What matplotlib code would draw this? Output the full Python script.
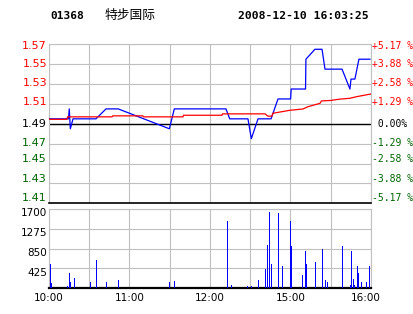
import numpy as np
import matplotlib.pyplot as plt

# ------- DATA (minutes of trading since 10:00, lunch break removed) -------

price_min = [0, 14.5, 15.1, 15.9, 17.9, 35.0, 42.5, 51.6, 89.7, 93.4, 131.9, 134.7,
             148.3, 150.8, 155.8, 165.5, 170.7, 180.1, 180.5, 191.2, 191.5, 198.2,
             203.5, 205.7, 218.4, 224.3, 225.1, 228.0, 231.0, 239.2]
price_val = [1.495, 1.495, 1.505, 1.485, 1.495, 1.495, 1.505, 1.505, 1.485, 1.505, 1.505, 1.495,
             1.495, 1.475, 1.495, 1.495, 1.515, 1.515, 1.525, 1.525, 1.555, 1.565,
             1.565, 1.545, 1.545, 1.525, 1.535, 1.535, 1.555, 1.555]

avg_min = [0, 13.4, 13.8, 47.0, 47.4, 70.0, 70.4, 99.9, 100.3, 128.9, 129.3, 161.0, 163.2,
           166.2, 166.9, 179.6, 189.3, 193.0, 202.0, 203.0, 210.0, 216.0, 224.3, 229.3, 236.0, 240.0]
avg_val = [1.4945, 1.4945, 1.497, 1.497, 1.498, 1.498, 1.497, 1.497, 1.4986, 1.4986, 1.500, 1.500, 1.4977,
           1.4977, 1.5006, 1.5036, 1.5049, 1.5072, 1.5106, 1.5130, 1.5135, 1.5147, 1.5157, 1.5173, 1.519, 1.520]

vol_min = [1.0, 1.7, 13.6, 15.1, 15.9, 18.9, 30.8, 34.7, 42.7, 51.6, 89.7, 93.4,
           132.3, 135.3, 147.8, 150.9, 156.0, 161.2, 162.7, 164.2, 165.7, 170.9, 173.9,
           179.8, 180.6, 188.8, 191.0, 191.8, 198.5, 203.7, 205.9, 207.4, 218.6,
           224.6, 225.3, 226.8, 227.5, 229.8, 230.5, 232.8, 236.5, 238.7]
vol_val = [520, 115, 50, 330, 135, 220, 135, 605, 135, 180, 135, 155,
           1445, 70, 50, 50, 180, 415, 930, 1630, 520, 1610, 480,
           1445, 905, 285, 800, 520, 565, 845, 180, 135, 905,
           70, 800, 200, 70, 470, 330, 135, 135, 480]

price_levels = [1.57, 1.55, 1.53, 1.51, 1.49, 1.47, 1.45, 1.43, 1.41]
pct_labels = ['+5.17 %', '+3.88 %', '+2.58 %', '+1.29 %', ' 0.00%',
              '-1.29 %', '-2.58 %', '-3.88 %', '-5.17 %']
vol_levels = [425, 850, 1275, 1700]
time_ticks = [0, 60, 120, 180, 240]
time_labels = ['10:00', '11:00', '12:00', '15:00', '16:00']

code = '01368'
name = '特步国际'
stamp = '2008-12-10 16:03:25'

RED = '#ff0000'
GREEN = '#006400'
GRID = '#c0c0c0'

# ------- FIGURE -------

fig = plt.figure(figsize=(4.14, 3.14), dpi=100)
W, H = 414, 314

def box(l, t, r, b):
    return [l / W, 1 - b / H, (r - l) / W, (b - t) / H]

ax = fig.add_axes(box(49, 44.3, 371, 203.3))
axv = fig.add_axes(box(49, 209, 371, 288.3))

for a in (ax, axv):
    a.set_xlim(0, 240)
    a.set_xticks(np.arange(0, 241, 30))
    a.grid(True, color=GRID, lw=0.8)
    a.set_axisbelow(True)
    a.tick_params(length=0, labelleft=False, labelbottom=False)
    for s in ('left', 'right', 'top'):
        a.spines[s].set_color(GRID)
        a.spines[s].set_linewidth(0.8)
    a.spines['bottom'].set_color('black')

# price panel
ax.set_ylim(1.41, 1.57)
ax.set_yticks(price_levels)
ax.spines['bottom'].set_linewidth(1.2)
ax.axhline(1.49, color='black', lw=1.0, zorder=2)
ax.plot(price_min, price_val, color='#0000ff', lw=0.9, zorder=3)
ax.plot(avg_min, avg_val, color=RED, lw=0.9, zorder=4)

# label rows sit a little off the grid lines, like the original
label_y = [1.5686, 1.5499, 1.5310, 1.5118, 1.4895, 1.4706, 1.4545, 1.4347, 1.4150]
ytr = ax.get_yaxis_transform()
for i, (lv, pl, yy) in enumerate(zip(price_levels, pct_labels, label_y)):
    c = RED if i < 4 else ('black' if i == 4 else GREEN)
    ax.text(-2 / 322, yy, f'{lv:.2f}', transform=ytr, ha='right', va='center',
            fontsize=8, color=c, family='DejaVu Sans')
    ax.text(1 + 1 / 322, yy, pl, transform=ytr, ha='left', va='center',
            fontsize=7, color=c, family='DejaVu Sans Mono')

# volume panel
axv.set_ylim(0, 1700)
axv.set_yticks(vol_levels)
axv.spines['bottom'].set_linewidth(1.6)
axv.vlines(vol_min, 0, vol_val, color='#0000ff', lw=0.6, zorder=3, antialiased=False)
vtr = axv.get_yaxis_transform()
for lv in vol_levels:
    axv.text(-2 / 322, lv - 90, str(lv), transform=vtr, ha='right', va='center',
             fontsize=7.5, color='black', family='DejaVu Sans')
xtr = axv.get_xaxis_transform()
for t, lab in zip(time_ticks, time_labels):
    axv.text(min(t, 236), -0.12, lab, transform=xtr, ha='center', va='center',
             fontsize=7.5, color='black', family='DejaVu Sans')

# header
fig.text(50 / W, 1 - 16 / H, code, ha='left', va='center', fontsize=8,
         fontweight='bold', family='DejaVu Sans Mono')
fig.text(105 / W, 1 - 15.5 / H, name, ha='left', va='center', fontsize=9.2,
         family=['Noto Sans CJK SC', 'DejaVu Sans'])
fig.text(238 / W, 1 - 16 / H, stamp, ha='left', va='center', fontsize=8.2,
         fontweight='bold', family='DejaVu Sans Mono')

fig.savefig('out.png', dpi=100)
